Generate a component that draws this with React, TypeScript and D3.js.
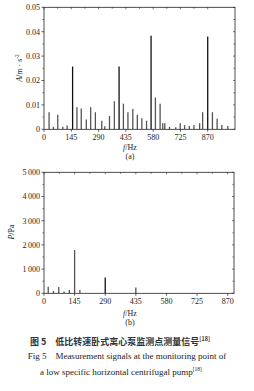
import React, { useEffect, useRef } from "react";
import * as d3 from "d3";

// chart (a): vibration acceleration spectrum
const accelFreq = [27, 50, 73, 100, 123, 152, 175, 198, 225, 248, 273, 307, 323, 348, 374, 399, 422, 446, 472, 496,
    520, 545, 569, 592, 617, 631, 642, 667, 700, 724, 747, 772, 797, 827, 843, 870, 895, 920, 945, 977];
const accelAmp = [0.007, 0.001, 0.006, 0.001, 0.0016, 0.0257, 0.009, 0.0085, 0.004, 0.009, 0.007, 0.0035, 0.0013,
    0.0055, 0.0115, 0.0257, 0.0105, 0.007, 0.0083, 0.006, 0.0045, 0.0035, 0.0383, 0.013, 0.0105, 0.0025, 0.0025,
    0.001, 0.0008, 0.0025, 0.0017, 0.0014, 0.0018, 0.0025, 0.007, 0.038, 0.007, 0.0043, 0.0018, 0.0014];

// chart (b): pressure pulsation spectrum
const pressFreq = [20, 45, 70, 95, 120, 145, 170, 290, 435];
const pressAmp = [275, 95, 260, 70, 140, 1790, 140, 650, 235];

const freqTicks = [0, 145, 290, 435, 580, 725, 870];
const accelTicks = [0, 0.01, 0.02, 0.03, 0.04, 0.05];
const pressTicks = [0, 1000, 2000, 3000, 4000, 5000];

const serif = "'Liberation Serif', 'DejaVu Serif', serif";

const App = () => {
    const container = useRef<HTMLDivElement>(null);

    useEffect(() => {
        const el = container.current;
        if (!el) return;
        el.innerHTML = "";

        const svg = d3.select(el)
            .append("svg")
            .attr("width", 254)
            .attr("height", 391)
            .style("position", "absolute")
            .style("left", "0px")
            .style("top", "0px")
            .style("font-family", serif)
            .style("background", "#fff");

        const drawPanel = (opts) => {
            const { x, y, freq, amp, yTicks, yMinor, fmt, xLabelY, tagY, tag, color } = opts;
            const g = svg.append("g");
            const [x0, x1] = x.range();
            const [y0, y1] = y.range();

            // bars
            g.selectAll("line.bar")
                .data(freq)
                .enter()
                .append("line")
                .attr("x1", (d) => x(d))
                .attr("x2", (d) => x(d))
                .attr("y1", y(0))
                .attr("y2", (d, i) => y(amp[i]))
                .attr("stroke", (d, i) => color(amp[i]))
                .attr("stroke-width", 1.3);

            // frame
            g.append("rect")
                .attr("x", x0).attr("y", y1)
                .attr("width", x1 - x0).attr("height", y0 - y1)
                .attr("fill", "none").attr("stroke", "#222").attr("stroke-width", 0.8);

            // x ticks
            freqTicks.forEach((t) => {
                g.append("line").attr("x1", x(t)).attr("x2", x(t)).attr("y1", y0).attr("y2", y0 + 2.5)
                    .attr("stroke", "#222").attr("stroke-width", 0.7);
                g.append("line").attr("x1", x(t)).attr("x2", x(t)).attr("y1", y1).attr("y2", y1 + 2)
                    .attr("stroke", "#222").attr("stroke-width", 0.6);
                g.append("text").attr("x", x(t)).attr("y", y0 + 11)
                    .attr("text-anchor", "middle").attr("font-size", 8).attr("fill", "#222").text(t);
            });
            freqTicks.slice(0, -1).forEach((t) => {
                const m = t + 72.5;
                g.append("line").attr("x1", x(m)).attr("x2", x(m)).attr("y1", y1).attr("y2", y1 + 1.5)
                    .attr("stroke", "#222").attr("stroke-width", 0.6);
            });

            // y ticks
            yTicks.forEach((t) => {
                g.append("line").attr("x1", x0 - 2.5).attr("x2", x0).attr("y1", y(t)).attr("y2", y(t))
                    .attr("stroke", "#222").attr("stroke-width", 0.7);
                g.append("line").attr("x1", x1 - 2).attr("x2", x1).attr("y1", y(t)).attr("y2", y(t))
                    .attr("stroke", "#222").attr("stroke-width", 0.6);
                g.append("text").attr("x", x0 - 4).attr("y", y(t) + 2.8)
                    .attr("text-anchor", "end").attr("font-size", 8).attr("fill", "#222").text(fmt(t));
            });
            yMinor.forEach((t) => {
                g.append("line").attr("x1", x0 - 1.5).attr("x2", x0).attr("y1", y(t)).attr("y2", y(t))
                    .attr("stroke", "#222").attr("stroke-width", 0.6);
                g.append("line").attr("x1", x1 - 1.5).attr("x2", x1).attr("y1", y(t)).attr("y2", y(t))
                    .attr("stroke", "#222").attr("stroke-width", 0.6);
            });

            // x label and tag
            const xl = g.append("text").attr("x", 130).attr("y", xLabelY)
                .attr("text-anchor", "middle").attr("font-size", 8).attr("fill", "#222");
            xl.append("tspan").attr("font-style", "italic").text("f");
            xl.append("tspan").text("/Hz");
            g.append("text").attr("x", 130).attr("y", tagY)
                .attr("text-anchor", "middle").attr("font-size", 8).attr("fill", "#222").text(tag);
            return g;
        };

        // panel (a)
        const xa = d3.scaleLinear().domain([0, 1015]).range([44, 235]);
        const ya = d3.scaleLinear().domain([0, 0.05]).range([129.3, 7.3]);
        drawPanel({
            x: xa, y: ya, freq: accelFreq, amp: accelAmp,
            yTicks: accelTicks,
            yMinor: [0.005, 0.015, 0.025, 0.035, 0.045],
            fmt: (t) => (t === 0 ? "0" : d3.format(".2f")(t)),
            xLabelY: 150, tagY: 158.5, tag: "(a)",
            color: (v) => (v > 0.02 ? "#111" : "#555"),
        });
        const yla = svg.append("text")
            .attr("transform", "translate(22,68) rotate(-90)")
            .attr("text-anchor", "middle").attr("font-size", 8).attr("fill", "#222");
        yla.append("tspan").attr("font-style", "italic").text("A");
        yla.append("tspan").text("/m · s");
        yla.append("tspan").attr("font-size", 5.5).attr("dy", -3).text("-2");

        // panel (b)
        const xb = d3.scaleLinear().domain([0, 900]).range([44, 234]);
        const yb = d3.scaleLinear().domain([0, 5000]).range([293.3, 172.3]);
        drawPanel({
            x: xb, y: yb, freq: pressFreq, amp: pressAmp,
            yTicks: pressTicks,
            yMinor: [500, 1500, 2500, 3500, 4500],
            fmt: (t) => d3.format(",")(t).replace(",", "\u2009"),
            xLabelY: 316, tagY: 325, tag: "(b)",
            color: (v) => (v > 500 && v < 1000 ? "#111" : "#555"),
        });
        const ylb = svg.append("text")
            .attr("transform", "translate(14,232) rotate(-90)")
            .attr("text-anchor", "middle").attr("font-size", 8).attr("fill", "#222");
        ylb.append("tspan").attr("font-style", "italic").text("P");
        ylb.append("tspan").text("/Pa");

        // caption
        const c1 = svg.append("text").attr("x", 120).attr("y", 344.5)
            .attr("text-anchor", "middle").attr("font-size", 9).attr("fill", "#333")
            .attr("font-family", "'Noto Sans CJK SC', sans-serif").attr("font-weight", "bold");
        c1.append("tspan").text("图 5\u2003低比转速卧式离心泵监测点测量信号");
        c1.append("tspan").attr("font-size", 5.5).attr("dy", -3.5).text("[18]");

        svg.append("text").attr("x", 127).attr("y", 358.5)
            .attr("text-anchor", "middle").attr("font-size", 9).attr("fill", "#222")
            .text("Fig 5\u2003Measurement signals at the monitoring point of");
        const c3 = svg.append("text").attr("x", 121).attr("y", 374.5)
            .attr("text-anchor", "middle").attr("font-size", 9).attr("fill", "#222");
        c3.append("tspan").text("a low specific horizontal centrifugal pump");
        c3.append("tspan").attr("font-size", 5.5).attr("dy", -3.5).text("[18]");
    }, []);

    return <div ref={container}></div>;
};

export default App;
